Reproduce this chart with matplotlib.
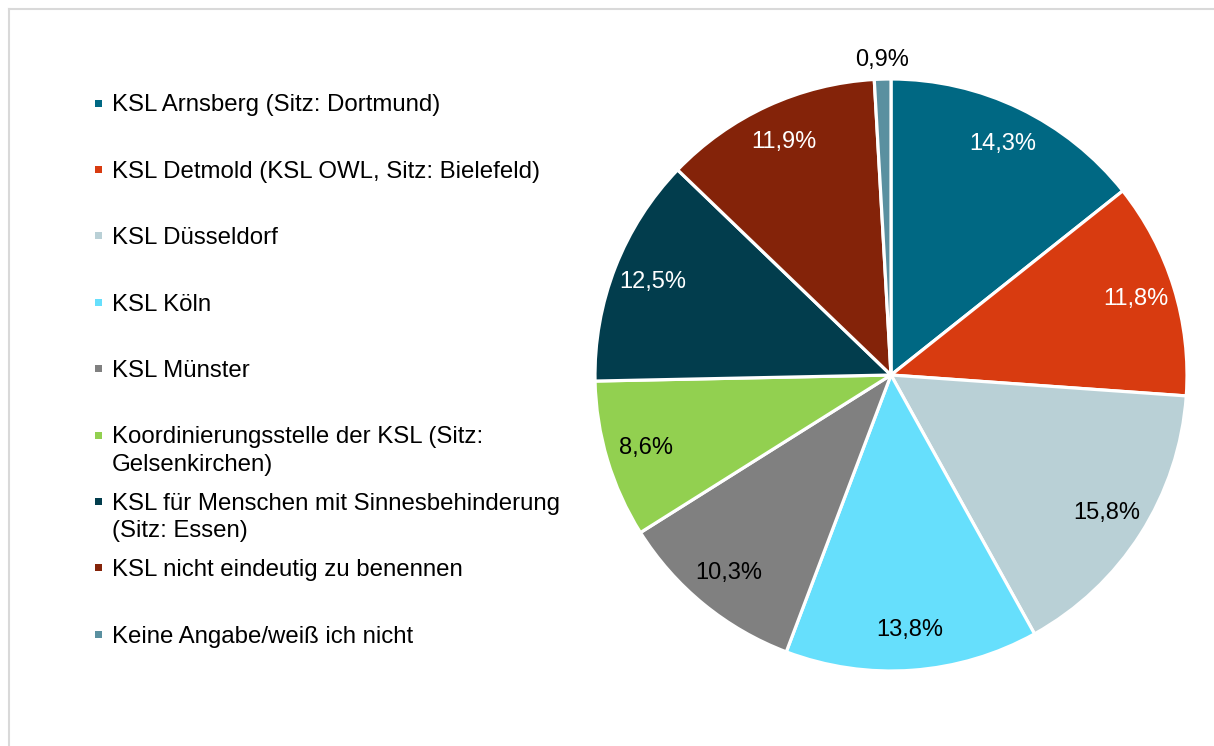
import matplotlib
matplotlib.use("Agg")
import matplotlib.pyplot as plt
import numpy as np
from matplotlib.lines import Line2D
from matplotlib.patches import Rectangle

plt.rcParams['font.family'] = ['Liberation Sans', 'DejaVu Sans']

categories = [
    "KSL Arnsberg (Sitz: Dortmund)",
    "KSL Detmold (KSL OWL, Sitz: Bielefeld)",
    "KSL Düsseldorf",
    "KSL Köln",
    "KSL Münster",
    "Koordinierungsstelle der KSL (Sitz:\nGelsenkirchen)",
    "KSL für Menschen mit Sinnesbehinderung\n(Sitz: Essen)",
    "KSL nicht eindeutig zu benennen",
    "Keine Angabe/weiß ich nicht",
]
values = [14.3, 11.8, 15.8, 13.8, 10.3, 8.6, 12.5, 11.9, 0.9]
value_labels = ["14,3%", "11,8%", "15,8%", "13,8%", "10,3%", "8,6%", "12,5%", "11,9%", "0,9%"]
colors = ["#006883", "#D83B10", "#B9D0D6", "#66DFFC", "#808080",
          "#92D050", "#023D4D", "#842309", "#5A90A0"]
label_colors = ["white", "white", "black", "black", "black",
                "black", "white", "white", "black"]

W, H = 1214, 746
fig = plt.figure(figsize=(W / 100, H / 100), dpi=100)

# border (top and left visible)
fig.add_artist(Line2D([8.5 / W, 8.5 / W], [0, 1 - 9 / H], transform=fig.transFigure,
                      color="#D9D9D9", lw=1.5))
fig.add_artist(Line2D([8.5 / W, 1], [1 - 9 / H, 1 - 9 / H], transform=fig.transFigure,
                      color="#D9D9D9", lw=1.5))

cx, cy, R = 891, 375, 296
ax = fig.add_axes([(cx - R) / W, (H - cy - R) / H, 2 * R / W, 2 * R / H])
wedges, _ = ax.pie(values, colors=colors, startangle=90, counterclock=False,
                   radius=1.0,
                   wedgeprops=dict(edgecolor="white", linewidth=2.3))
ax.set_xlim(-1, 1)
ax.set_ylim(-1, 1)
ax.set_aspect("equal")
ax.axis("off")

for w, lab, tc, v in zip(wedges, value_labels, label_colors, values):
    ang = np.deg2rad((w.theta1 + w.theta2) / 2)
    d = 1.065 if v < 2 else 0.865
    ax.text(d * np.cos(ang), d * np.sin(ang), lab, ha="center", va="center",
            color=tc, fontsize=17, clip_on=False)

# legend
lax = fig.add_axes([0, 0, 1, 1])
lax.set_xlim(0, W)
lax.set_ylim(H, 0)
lax.axis("off")
y0, dy, line_h = 103, 66.4, 27
for i, (cat, col) in enumerate(zip(categories, colors)):
    y = y0 + i * dy
    lax.add_patch(Rectangle((95, y - 3.5), 7, 7, facecolor=col, edgecolor="none"))
    for j, line in enumerate(cat.split("\n")):
        lax.text(112, y + 8.5 + j * line_h, line, ha="left", va="baseline",
                 fontsize=17.3, color="black")

fig.savefig("out.png", dpi=100)
